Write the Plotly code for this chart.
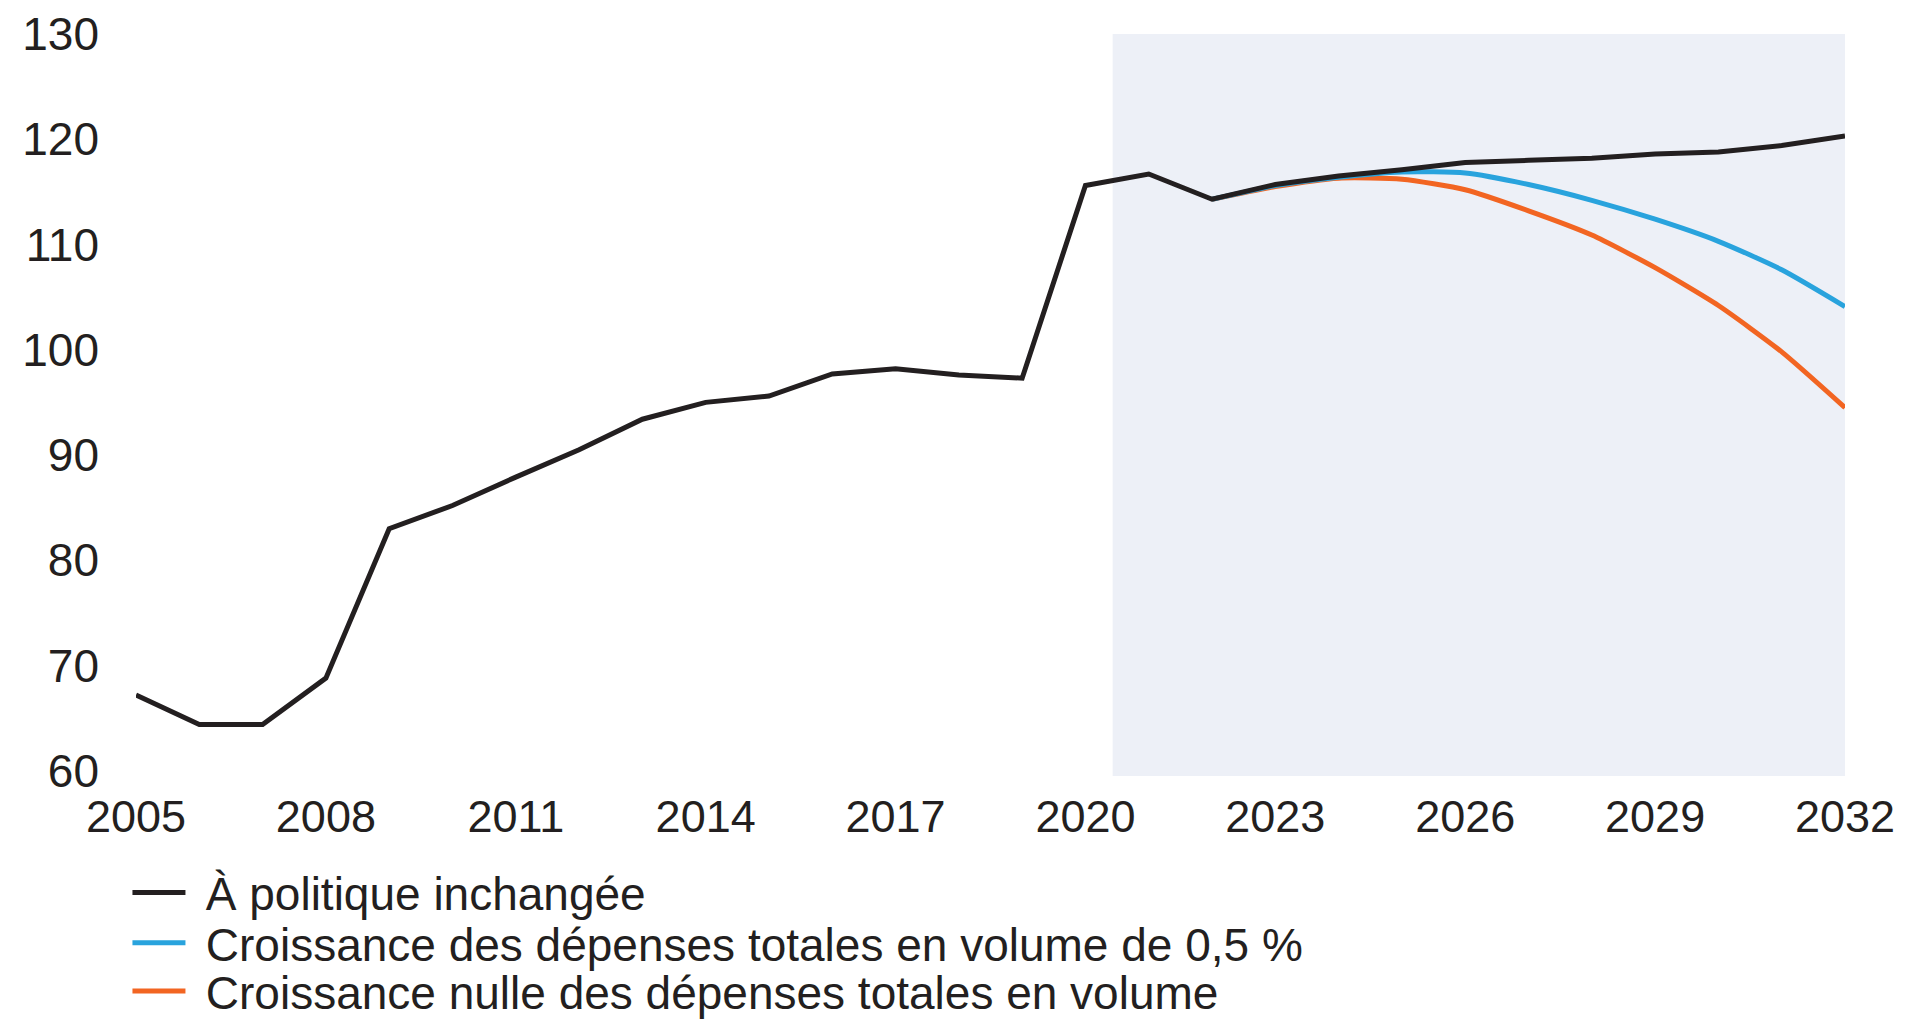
import plotly.graph_objects as go

# ── Data ────────────────────────────────────────────────────────────────────
YEARS = list(range(2005, 2033))
UNCHANGED = [67.2, 64.4, 64.4, 68.8, 83.0, 85.2, 87.9, 90.5, 93.4, 95.0,
             95.6, 97.7, 98.2, 97.6, 97.3, 115.6, 116.7, 114.3, 115.7, 116.5,
             117.1, 117.8, 118.0, 118.2, 118.6, 118.8, 119.4, 120.3]

PROJ_YEARS = list(range(2022, 2033))
GROWTH_05 = [114.3, 115.6, 116.4, 116.9, 116.8, 115.7, 114.2, 112.4, 110.3, 107.6, 104.1]
GROWTH_0 = [114.3, 115.5, 116.3, 116.2, 115.2, 113.2, 110.9, 107.8, 104.2, 99.8, 94.5]

X_TICKS = list(range(2005, 2033, 3))
Y_TICKS = list(range(60, 131, 10))

NAMES = [
    "À politique inchangée",
    "Croissance des dépenses totales en volume de 0,5 %",
    "Croissance nulle des dépenses totales en volume",
]

# ── Colours ─────────────────────────────────────────────────────────────────
BLACK = "#231f20"
BLUE = "#29a3dd"
ORANGE = "#f26522"
SHADE = "#edf0f7"

FONT = "Liberation Sans, Arial, sans-serif"
Y_MIN, Y_MAX = 59.5, 130
GAP = "\u2004"  # little space between legend swatch and text

fig = go.Figure()
fig.add_trace(go.Scatter(x=PROJ_YEARS, y=GROWTH_0, mode="lines", name=GAP + NAMES[2],
                         line=dict(color=ORANGE, width=5, shape="spline", smoothing=0.6),
                         legend="legend3"))
fig.add_trace(go.Scatter(x=PROJ_YEARS, y=GROWTH_05, mode="lines", name=GAP + NAMES[1],
                         line=dict(color=BLUE, width=5, shape="spline", smoothing=0.6),
                         legend="legend2"))
fig.add_trace(go.Scatter(x=YEARS, y=UNCHANGED, mode="lines", name=GAP + NAMES[0],
                         line=dict(color=BLACK, width=5), legend="legend"))

# projection period shading
fig.add_shape(type="rect", xref="x", yref="y", x0=2020.43, x1=2032,
              y0=Y_MIN, y1=Y_MAX, fillcolor=SHADE, line_width=0, layer="below")

legend_base = dict(x=-0.005, xanchor="left", yanchor="middle",
                   bgcolor="rgba(0,0,0,0)", itemwidth=53,
                   font=dict(family=FONT, size=46, color=BLACK))

# the page body adds an 8px offset, so the figure is 8px smaller
fig.update_layout(
    width=1899,
    height=1014,
    paper_bgcolor="white",
    plot_bgcolor="white",
    margin=dict(l=128, r=62, t=26, b=246, autoexpand=False),
    font=dict(family=FONT, size=45, color=BLACK),
    showlegend=True,
    legend=dict(legend_base, y=-0.157),
    legend2=dict(legend_base, y=-0.225),
    legend3=dict(legend_base, y=-0.290),
    xaxis=dict(range=[2005, 2032], tickvals=X_TICKS, showgrid=False, zeroline=False,
               showline=False, ticks="", ticklabelstandoff=10, automargin=False,
               tickfont=dict(family=FONT, size=45, color=BLACK)),
    yaxis=dict(range=[Y_MIN, Y_MAX], tickvals=Y_TICKS, showgrid=False, zeroline=False,
               showline=False, ticks="", ticklabelstandoff=36, automargin=False,
               tickfont=dict(family=FONT, size=46, color=BLACK)),
)

fig.write_html("out.html")
